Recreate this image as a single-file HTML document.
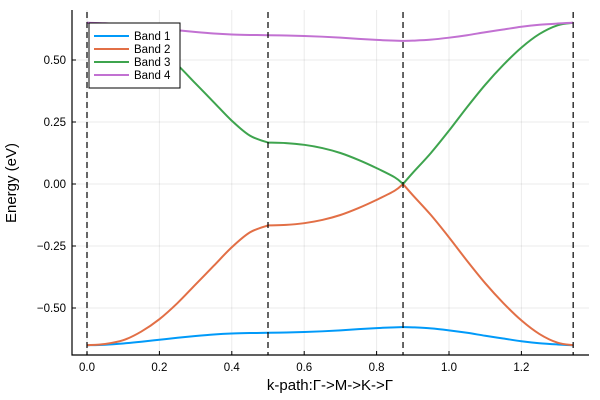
<!DOCTYPE html>
<html><head><meta charset="utf-8"><style>
body{margin:0;background:#fff}
svg{display:block;font-family:"Liberation Sans","DejaVu Sans",sans-serif}
</style></head><body>
<svg id="chart" width="600" height="400"></svg>
<script>
const kpts=[0,0.05,0.1,0.15,0.2,0.25,0.3,0.35,0.4,0.45,0.5,0.55,0.6,0.65,0.7,0.75,0.8,0.85,0.873,0.9,0.95,1.0,1.05,1.1,1.15,1.2,1.25,1.3,1.343];
const band1=[-0.65,-0.648,-0.643,-0.636,-0.628,-0.62,-0.613,-0.607,-0.603,-0.601,-0.6,-0.599,-0.597,-0.594,-0.59,-0.585,-0.581,-0.578,-0.577,-0.578,-0.582,-0.59,-0.6,-0.612,-0.623,-0.634,-0.642,-0.647,-0.65];
const band2=[-0.65,-0.645,-0.63,-0.595,-0.545,-0.48,-0.405,-0.33,-0.255,-0.195,-0.167,-0.165,-0.158,-0.145,-0.125,-0.097,-0.064,-0.027,0,-0.045,-0.125,-0.215,-0.31,-0.4,-0.48,-0.55,-0.605,-0.64,-0.65];
const band3=[0.65,0.645,0.63,0.595,0.545,0.48,0.405,0.33,0.255,0.195,0.167,0.165,0.158,0.145,0.125,0.097,0.064,0.027,0,0.045,0.125,0.215,0.31,0.4,0.48,0.55,0.605,0.64,0.65];
const band4=[0.65,0.648,0.643,0.636,0.628,0.62,0.613,0.607,0.603,0.601,0.6,0.599,0.597,0.594,0.59,0.585,0.581,0.578,0.577,0.578,0.582,0.59,0.6,0.612,0.623,0.634,0.642,0.647,0.65];
const bandNames=["Band 1","Band 2","Band 3","Band 4"];
const symK=[0,0.5,0.873,1.343];
const xTicks=[0,0.2,0.4,0.6,0.8,1.0,1.2];
const xTickLabels=["0.0","0.2","0.4","0.6","0.8","1.0","1.2"];
const yTicks=[0.5,0.25,0,-0.25,-0.5];
const yTickLabels=["0.50","0.25","0.00","\u22120.25","\u22120.50"];

const colors=["#009af9","#e26f46","#3ea44e","#c271d2"];
const L=72,R=589,T=10,B=355;
const xs=k=>87+k*362;
const ys=v=>184-v*248;
const svg=document.getElementById('chart');
const NS="http://www.w3.org/2000/svg";
function mk(tag,attrs,parent){const e=document.createElementNS(NS,tag);for(const a in attrs)e.setAttribute(a,attrs[a]);(parent||svg).appendChild(e);return e;}

xTicks.forEach((t,i)=>{
  const g=mk('line',{x1:xs(t),x2:xs(t),y1:T,y2:B,stroke:'#000','stroke-opacity':0.08,'stroke-width':1});
  
  
  const tk=mk('line',{x1:xs(t),x2:xs(t),y1:B,y2:B-4,stroke:'#000','stroke-width':1});
  
  
  const tx=mk('text',{x:xs(t),y:B+16,'font-size':11.5,'text-anchor':'middle',fill:'#000'});
  tx.textContent=xTickLabels[i];
  
  
});
yTicks.forEach((t,i)=>{
  const g=mk('line',{x1:L,x2:R,y1:ys(t),y2:ys(t),stroke:'#000','stroke-opacity':0.08,'stroke-width':1});
  
  
  const tk=mk('line',{x1:L,x2:L+4,y1:ys(t),y2:ys(t),stroke:'#000','stroke-width':1});
  
  
  const tx=mk('text',{x:L-6,y:ys(t)+4,'font-size':11.5,'text-anchor':'end',fill:'#000'});
  tx.textContent=yTickLabels[i];
  
  
});
const ax=mk('path',{d:`M${L} ${T}V${B}H${R}`,fill:'none',stroke:'#000','stroke-width':1.2});



function smooth(xsArr,ysArr){
  const p=xsArr.map((x,i)=>[xs(x),ys(ysArr[i])]);
  let d=`M${p[0][0]} ${p[0][1]}`;
  for(let i=0;i<p.length-1;i++){
    const p0=p[Math.max(i-1,0)],p1=p[i],p2=p[i+1],p3=p[Math.min(i+2,p.length-1)];
    const c1=[p1[0]+(p2[0]-p0[0])/6,p1[1]+(p2[1]-p0[1])/6];
    const c2=[p2[0]-(p3[0]-p1[0])/6,p2[1]-(p3[1]-p1[1])/6];
    d+=`C${c1[0]} ${c1[1]} ${c2[0]} ${c2[1]} ${p2[0]} ${p2[1]}`;
  }
  return d;
}
function segs(vals){
  const out=[];let cur={k:[],v:[]};
  kpts.forEach((k,i)=>{cur.k.push(k);cur.v.push(vals[i]);
    if(i>0&&i<kpts.length-1&&symK.includes(k)){out.push(cur);cur={k:[k],v:[vals[i]]};}});
  out.push(cur);return out;
}
[band1,band2,band3,band4].forEach((b,bi)=>{
  const d=segs(b).map(s=>smooth(s.k,s.v)).join('');
  const p=mk('path',{d:d,fill:'none',stroke:colors[bi],'stroke-width':2,'stroke-linejoin':'round'});
  
  
});
symK.forEach(k=>{
  const l=mk('line',{x1:xs(k),x2:xs(k),y1:T+2,y2:B,stroke:'#000','stroke-width':1.2,'stroke-dasharray':'6,4'});
  
  
});
const lg=mk('g',{});


mk('rect',{x:89,y:23,width:91,height:65,fill:'#fff',stroke:'#000','stroke-width':1},lg);
bandNames.forEach((n,i)=>{
  const y=36+i*13;
  const ln=mk('line',{x1:94,x2:129,y1:y,y2:y,stroke:colors[i],'stroke-width':2},lg);
  
  
  const t=mk('text',{x:134,y:y+4,'font-size':11.5,fill:'#000'},lg);
  t.textContent=n;
  
  
});
const xl=mk('text',{x:330,y:390,'font-size':15,'text-anchor':'middle',fill:'#000'});
xl.textContent='k-path:\u0393->M->K->\u0393';


const yl=mk('text',{x:0,y:0,'font-size':15,'text-anchor':'middle',fill:'#000',transform:'translate(16,183) rotate(-90)'});
yl.textContent='Energy (eV)';


</script>
</body></html>
